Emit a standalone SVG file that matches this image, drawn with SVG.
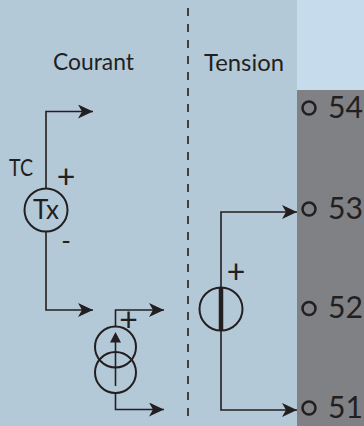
<svg xmlns="http://www.w3.org/2000/svg" width="364" height="426" viewBox="0 0 364 426">
<defs>
<marker id="arr" markerUnits="userSpaceOnUse" markerWidth="16" markerHeight="14" refX="15" refY="7" orient="auto"><path d="M0 0L15 7L0 14L4 7Z" fill="#231f20"/></marker>
</defs>
<style>
.w{fill:none;stroke:#231f20;stroke-width:1.6}
.c{fill:none;stroke:#231f20;stroke-width:2}
.t{fill:#231f20;font-family:"Lato","Noto Sans",sans-serif;font-size:23px}
.p{fill:#231f20;font-family:"Lato","Noto Sans",sans-serif;font-size:32px;text-anchor:middle}
.n{fill:#231f20;font-family:"Lato","Noto Sans",sans-serif;font-size:31px}
.a{fill:none;stroke:#231f20;stroke-width:1.6;marker-end:url(#arr)}
.o{fill:none;stroke:#231f20;stroke-width:2.500}
</style>
<rect width="364" height="426" fill="#b4c9d8"/>
<rect x="297" width="67" height="90" fill="#c6dcec"/>
<rect x="297" y="90" width="67" height="336" fill="#808184"/>
<path d="M188 8V417" fill="none" stroke="#231f20" stroke-width="1.6" stroke-dasharray="8 8"/>
<g id="connectors">
<path class="a" d="M46 189V111.500H93"/>
<path class="a" d="M46 232V310H93"/>
<path class="a" d="M115.500 327V310H164"/>
<path class="a" d="M115.500 393V409.500H164"/>
<path class="a" d="M221 288V212H297"/>
<path class="a" d="M221 330V410H297"/>
</g>
<g id="label-courant"><text class="t" x="53" y="70" textLength="81" lengthAdjust="spacingAndGlyphs">Courant</text></g>
<g id="label-tension"><text class="t" x="204" y="70.500" textLength="80" lengthAdjust="spacingAndGlyphs">Tension</text></g>
<g id="tc"><text class="t" x="9" y="176" textLength="24" lengthAdjust="spacingAndGlyphs">TC</text>
<circle class="c" cx="46" cy="210" r="21.500"/>
<text class="t" x="33" y="219" textLength="26" lengthAdjust="spacingAndGlyphs" style="font-size:27px">Tx</text>
<text class="p" x="66" y="187.500">+</text>
<text class="p" x="66" y="250" style="font-size:26px">-</text>
</g>
<g id="source-current">
<circle class="c" cx="115.500" cy="347" r="20.500"/>
<circle class="c" cx="115.500" cy="372.500" r="20.500"/>
<path class="w" d="M115.500 386V340"/>
<path d="M115.500 332L121 342.500H110Z" fill="#231f20"/>
<text class="p" x="128.500" y="331">+</text>
</g>
<g id="source-voltage">
<circle class="c" cx="221" cy="309" r="21.500"/>
<path d="M221 288V330" fill="none" stroke="#231f20" stroke-width="4.500"/>
<text class="p" x="236" y="283">+</text>
</g>
<g id="t54"><circle class="o" cx="309" cy="108" r="6.500"/><text class="n" x="328" y="118" textLength="35" lengthAdjust="spacingAndGlyphs">54</text></g>
<g id="t53"><circle class="o" cx="309" cy="209" r="6.500"/><text class="n" x="328" y="218.500" textLength="35" lengthAdjust="spacingAndGlyphs">53</text></g>
<g id="t52"><circle class="o" cx="309" cy="308.500" r="6.500"/><text class="n" x="328" y="318" textLength="35" lengthAdjust="spacingAndGlyphs">52</text></g>
<g id="t51"><circle class="o" cx="309" cy="408" r="6.500"/><text class="n" x="328" y="418" textLength="35" lengthAdjust="spacingAndGlyphs">51</text></g>
</svg>
